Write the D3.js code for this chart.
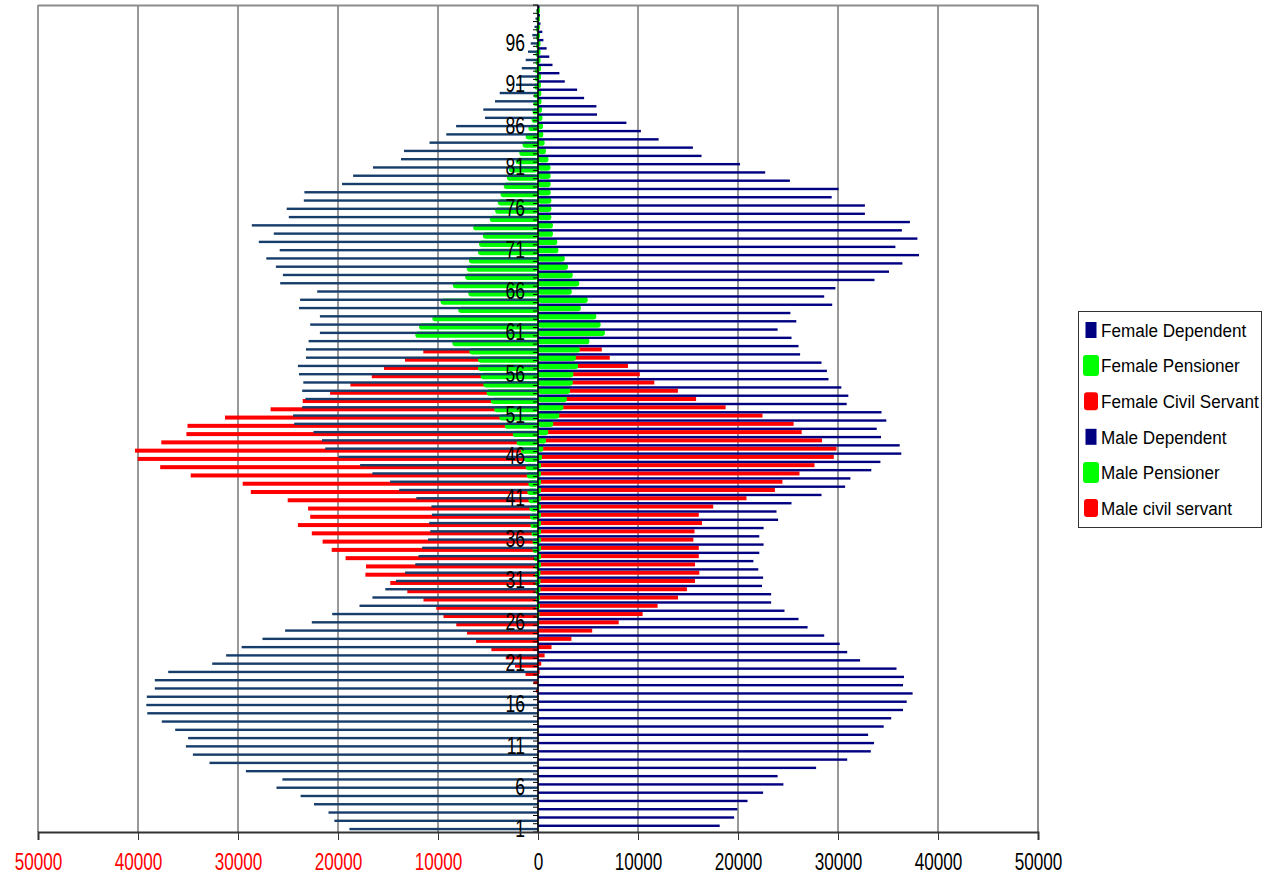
<!DOCTYPE html>
<html>
<head>
<meta charset="utf-8">
<script src="https://cdn.jsdelivr.net/npm/d3@7"></script>
<style>
  body { margin: 0; background: #fff; }
  svg { display: block; font-family: "Liberation Sans", Arial, sans-serif; }
</style>
</head>
<body>
<svg id="chart" width="1263" height="880"></svg>
<script>
// ages 1..100, values (persons)
var ages = d3.range(1, 101);

var femaleDependent = [18860,20360,20950,22400,23740,26150,25560,29210,32850,34510,
  35210,34990,36280,37620,39070,39170,39120,38320,38320,36980,
  32580,31190,29640,27550,25290,22620,20580,17850,16560,15270,
  14200,13290,12270,11950,11580,10990,10770,10880,10610,10660,
  12170,13880,14790,16560,17790,19940,21280,21600,22450,24380,
  24490,23580,23260,23580,23470,23900,24010,23200,23200,22940,
  21810,22780,21810,23900,23790,22080,25780,25510,26210,27170,
  25830,27920,26420,28620,24920,25130,23420,23360,19600,18490,
  16500,13700,13400,10850,9170,8190,5300,5470,4300,3830,
  2200,1900,1620,1230,1000,730,570,350,250,150];

var femalePensioner = [0,0,0,0,0,0,0,0,0,0,
  0,0,0,0,0,0,0,0,0,0,
  0,0,0,0,0,100,150,200,200,250,
  250,300,300,400,540,540,640,750,800,860,
  960,1070,960,1130,1230,1390,1710,2140,2520,3320,
  3860,4390,4720,5140,5470,5730,6000,6000,6860,8570,
  12270,11900,10560,7980,9750,6970,8520,7290,7130,6910,
  6000,5900,5520,6480,4820,4290,4020,3750,3430,3110,
  2900,2250,1870,1550,1230,960,640,540,450,400,
  350,300,300,250,250,200,200,200,150,150];

var femaleCivilServant = [0,0,0,0,0,0,0,0,0,0,
  0,0,0,0,0,50,100,210,450,1250,
  2300,3220,4660,6190,7100,8170,9450,10170,11450,13070,
  14770,17260,17200,19240,20630,21540,22620,24010,22780,22990,
  25030,28720,29530,34730,37780,40030,40300,37670,35160,35050,
  31300,26740,23530,20790,18760,16620,15400,13300,11470,0,
  0,0,0,0,0,0,0,0,0,0,
  0,0,0,0,0,0,0,0,0,0,
  0,0,0,0,0,0,0,0,0,0,
  0,0,0,0,0,0,0,0,0,0];

var maleDependent = [18170,19610,19940,20950,22510,24540,23960,27810,30920,33280,
  33600,33010,34570,35320,36500,36870,37460,36500,36600,35850,
  32210,30920,30170,28620,26960,26050,24650,23310,23310,22400,
  22510,22030,21540,22130,22560,22130,22560,24010,23850,25350,
  28350,30710,31240,33330,34240,36330,36170,34300,33870,34830,
  34350,30870,31030,30330,29050,28890,28350,26210,26050,25350,
  23960,25830,25240,29420,28620,29740,33650,35100,36440,38100,
  35740,37940,36390,37190,32690,32690,29370,30060,25190,22720,
  20200,16350,15490,12060,10290,8840,5900,5840,4610,3910,
  2680,2140,1450,1130,860,540,430,250,200,150];

var malePensioner = [0,0,0,0,0,0,0,0,0,0,
  0,0,0,0,0,0,0,0,0,0,
  0,0,0,0,0,100,150,200,200,250,
  250,250,300,300,300,300,300,300,300,300,
  300,300,300,300,300,400,530,800,1030,1530,
  2130,2550,2890,3220,3480,3540,4020,3800,4180,5140,
  6700,6270,5840,4290,4980,3380,4130,3480,3000,2680,
  2040,1930,1500,1500,1340,1340,1340,1270,1270,1270,
  1250,1050,800,670,530,500,450,400,350,330,
  300,300,300,250,250,250,200,200,200,200];

var maleCivilServant = [0,0,0,0,0,0,0,0,0,0,
  0,0,0,0,0,0,0,0,0,160,
  320,660,1350,3340,5420,8070,10460,11960,14000,14890,
  15700,16130,15700,16080,16080,15540,15650,16400,16080,17520,
  20850,23690,24440,26150,27650,29580,29850,28400,26370,25560,
  22450,18760,15810,13990,11630,10180,9000,7180,6380,0,
  0,0,0,0,0,0,0,0,0,0,
  0,0,0,0,0,0,0,0,0,0,
  0,0,0,0,0,0,0,0,0,0,
  0,0,0,0,0,0,0,0,0,0];

var xTicks = [-50000,-40000,-30000,-20000,-10000,0,10000,20000,30000,40000,50000];
var ageLabels = d3.range(1, 100, 5);

var legendNames = ["Female Dependent","Female Pensioner","Female Civil Servant",
  "Male Dependent","Male Pensioner","Male civil servant"];

var NAVY_L = "#173d6b", NAVY_R = "#000080", GREEN = "#00ff00", RED = "#ff0000";

var svg = d3.select("#chart");
var margin = {left: 38, right: 1038, top: 5, bottom: 832};

var x = d3.scaleLinear().domain([-50000, 50000]).range([margin.left, margin.right]);
var y = d3.scaleBand().domain(ages.slice().reverse()).range([margin.top, margin.bottom]).padding(0);
var bw = y.bandwidth();
function yc(a){ return y(a) + bw / 2; }

// grid
svg.append("g").selectAll("line").data(xTicks).enter().append("line")
  .attr("x1", d => x(d)).attr("x2", d => x(d))
  .attr("y1", margin.top).attr("y2", margin.bottom)
  .attr("stroke", d => d == 50000 ? "#8c8c8c" : "#333")
  .attr("stroke-width", d => d == 50000 ? 2 : 1);
svg.append("line").attr("x1", margin.left).attr("x2", margin.right)
  .attr("y1", margin.top + 0.5).attr("y2", margin.top + 0.5)
  .attr("stroke", "#8c8c8c").attr("stroke-width", 2);

function bars(cls, data, sign, offset, h, color, rounded){
  var g = svg.append("g").attr("class", cls);
  g.selectAll("rect").data(ages).enter().append("rect")
    .attr("x", (d, i) => sign < 0 ? x(-data[i]) : x(0))
    .attr("width", (d, i) => Math.abs(x(data[i]) - x(0)))
    .attr("y", d => yc(d) + offset - h / 2)
    .attr("height", h)
    .attr("rx", rounded ? h / 2 : 0)
    .attr("fill", color)
    .style("display", (d, i) => data[i] > 0 ? null : "none");
}

bars("fcs", femaleCivilServant, -1, 3.2, 4, RED, false);
bars("mcs", maleCivilServant, 1, 1.2, 4, RED, false);
bars("fp", femalePensioner, -1, 3.0, 6.4, GREEN, true);
bars("mp", malePensioner, 1, 1.2, 6.4, GREEN, true);
bars("fd", femaleDependent, -1, 1.2, 2.4, NAVY_L, false);
bars("md", maleDependent, 1, -2.1, 2.4, NAVY_R, false);

// category axis in the middle
svg.append("line").attr("x1", x(0)).attr("x2", x(0))
  .attr("y1", margin.top).attr("y2", margin.bottom)
  .attr("stroke", "#000").attr("stroke-width", 1.5);
svg.append("g").selectAll("line").data(d3.range(0, 101)).enter().append("line")
  .attr("x1", x(0) - 5).attr("x2", x(0))
  .attr("y1", d => margin.top + d * bw).attr("y2", d => margin.top + d * bw)
  .attr("stroke", "#000").attr("stroke-width", 1);

svg.append("g").selectAll("text").data(ageLabels).enter().append("text")
  .attr("transform", d => "translate(" + (x(0) - 13) + "," + yc(d) + ") scale(0.73,1)")
  .attr("text-anchor", "end").attr("dy", "0.36em")
  .attr("font-size", 24).attr("fill", "#000")
  .text(d => d);

// value axis at the bottom
var xAxis = svg.append("g").attr("transform", "translate(0," + margin.bottom + ")")
  .call(d3.axisBottom(x).tickValues(xTicks).tickSize(8).tickFormat(d => Math.abs(d)));
xAxis.select(".domain").attr("stroke", "#333").attr("stroke-width", 2);
xAxis.selectAll(".tick line").attr("stroke", "#333");
xAxis.selectAll(".tick text")
  .attr("y", 30).attr("dy", "0.36em")
  .attr("transform", "scale(0.73,1)")
  .attr("font-size", 23.5)
  .attr("fill", d => d < 0 ? RED : "#000");

// legend
var leg = svg.append("g");
leg.append("rect").attr("x", 1078.5).attr("y", 311.5).attr("width", 183).attr("height", 216)
  .attr("fill", "#fff").attr("stroke", "#333").attr("stroke-width", 1);
var legColors = [NAVY_R, GREEN, RED, NAVY_R, GREEN, RED];
legendNames.forEach(function(name, i){
  var cy = 330 + i * 35.6;
  var c = legColors[i];
  var w = c == GREEN ? 16 : (c == RED ? 14 : 11);
  var h = c == GREEN ? 21 : (c == RED ? 18 : 16);
  leg.append("rect").attr("x", 1091 - w / 2).attr("y", cy - h / 2)
    .attr("width", w).attr("height", h).attr("rx", c == NAVY_R ? 0 : 3)
    .attr("fill", c);
  leg.append("text")
    .attr("transform", "translate(1101," + cy + ") scale(0.9,1)")
    .attr("dy", "0.36em").attr("font-size", 19).attr("fill", "#000")
    .text(name);
});
</script>
</body>
</html>
